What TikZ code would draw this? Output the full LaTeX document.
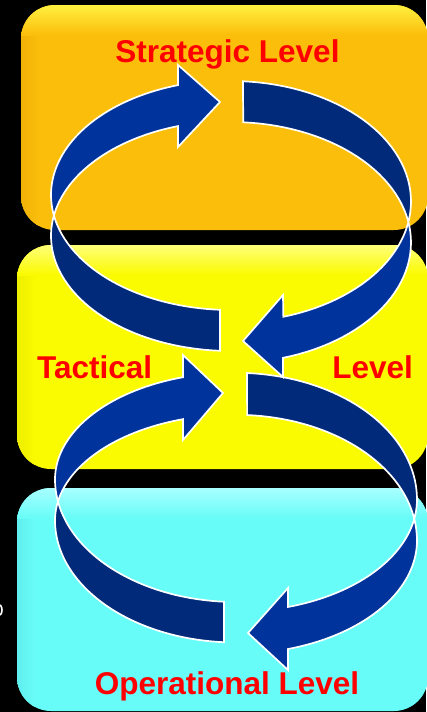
\documentclass[tikz,border=0pt]{standalone}
\usepackage{fontspec}
\setmainfont{Liberation Sans}
\definecolor{orbase}{HTML}{FBBE0A}
\definecolor{orhi}{HTML}{FFF040}
\definecolor{ordark}{HTML}{F2B208}
\definecolor{yebase}{HTML}{FAFA00}
\definecolor{yehi}{HTML}{FFFF78}
\definecolor{yedark}{HTML}{EEEE00}
\definecolor{cybase}{HTML}{68FCF8}
\definecolor{cyhi}{HTML}{A8FFFF}
\definecolor{cydark}{HTML}{60EEEE}
\definecolor{ribbright}{HTML}{00349C}
\definecolor{ribdark}{HTML}{012A7A}
\definecolor{lblred}{HTML}{FF0000}
% upper ring, left ribbon (arrow at top pointing right)
\newcommand\ribUA{plot[domain=0:1,samples=40,variable=\s] ({231+180*cos(93.5+86.5*\s)},{195+115*sin(93.5+86.5*\s)})
 -- plot[domain=0:1,samples=40,variable=\s] ({231+180*cos(180+72.9*\s)},{195+115*sin(180+72.9*\s)})
 -- (178,65) -- (220,102) -- (178,147)
 -- plot[domain=0:1,samples=40,variable=\s] ({231+180*cos(252.9-72.9*\s)},{236+115*sin(252.9-72.9*\s)})
 -- plot[domain=0:1,samples=40,variable=\s] ({231+180*cos(180-86.5*\s)},{236+115*sin(180-86.5*\s)}) -- cycle}
% upper ring, right ribbon (arrow at bottom pointing left)
\newcommand\ribUB{plot[domain=0:1,samples=60,variable=\s] ({231+180*cos(-86.2+159.4*\s)},{201.5+120.5*sin(-86.2+159.4*\s)})
 -- (283,295) -- (243,341) -- (283,377)
 -- plot[domain=0:1,samples=60,variable=\s] ({231+180*cos(73.2-159.4*\s)},{242.5+120.5*sin(73.2-159.4*\s)}) -- cycle}
% lower ring, left ribbon
\newcommand\ribLA{plot[domain=0:1,samples=40,variable=\s] ({236+181*cos(93.8+86.2*\s)},{479.5+122.5*sin(93.8+86.2*\s)})
 -- plot[domain=0:1,samples=40,variable=\s] ({236+181*cos(180+73*\s)},{479.5+107*sin(180+73*\s)})
 -- (183,355) -- (223,393) -- (183,440)
 -- plot[domain=0:1,samples=40,variable=\s] ({236+181*cos(253-73*\s)},{520.5+106*sin(253-73*\s)})
 -- plot[domain=0:1,samples=40,variable=\s] ({236+181*cos(180-86.2*\s)},{520.5+122*sin(180-86.2*\s)}) -- cycle}
% lower ring, right ribbon
\newcommand\ribLB{plot[domain=0:1,samples=40,variable=\s] ({236+181*cos(-86.5+86.5*\s)},{499.5+126.7*sin(-86.5+86.5*\s)})
 -- plot[domain=0:1,samples=40,variable=\s] ({236+181*cos(73.3*\s)},{499.5+112.2*sin(73.3*\s)})
 -- (288,588) -- (248,633) -- (288,670)
 -- plot[domain=0:1,samples=40,variable=\s] ({236+181*cos(73.3-73.3*\s)},{540.5+113.3*sin(73.3-73.3*\s)})
 -- plot[domain=0:1,samples=40,variable=\s] ({236+181*cos(-86.5*\s)},{540.5+125.7*sin(-86.5*\s)}) -- cycle}
\begin{document}
\begin{tikzpicture}[x=1pt,y=-1pt,
  ribbonedge/.style={draw=white, line width=1.7pt, line join=miter},
  lbl/.style={text=lblred, font=\fontsize{31.5}{36}\selectfont\bfseries, inner sep=0pt},
  levelbox/.style={rounded corners=34pt}]
\useasboundingbox (0,0) rectangle (426,712);
\fill[black] (0,0) rectangle (426,712);
% boxes
\newcommand\levbox[7]{%
  \fill[levelbox, #5] (#1,#2) rectangle (#3,#4);
  \begin{scope}
    \clip[levelbox] (#1,#2) rectangle (#3,#4);
    \shade[left color=#7, right color=#5] (#1,#2) rectangle ({#1+18},#4);
    \shade[top color=#6, bottom color=#5] (#1,#2) rectangle (#3,{#2+30});
  \end{scope}}
\levbox{21}{5}{428}{230}{orbase}{orhi}{ordark}
\levbox{17}{245}{428}{469}{yebase}{yehi}{yedark}
\levbox{17}{488}{428}{711}{cybase}{cyhi}{cydark}
% small white mark at left edge
\draw[white, line width=1.6pt] (-2,610) ellipse (4pt and 6pt);
% lower ring
\begin{scope}\clip (0,0) rectangle (426,501.5); \fill[ribbright] \ribLA; \end{scope}
\begin{scope}\clip (0,501.5) rectangle (426,712); \fill[ribdark] \ribLA; \end{scope}
\draw[ribbonedge] \ribLA;
\begin{scope}\clip (0,0) rectangle (426,518.8); \fill[ribdark] \ribLB; \end{scope}
\begin{scope}\clip (0,518.8) rectangle (426,712); \fill[ribbright] \ribLB; \end{scope}
\draw[ribbonedge] \ribLB;
% upper ring
\begin{scope}\clip (0,0) rectangle (426,215.5); \fill[ribbright] \ribUA; \end{scope}
\begin{scope}\clip (0,215.5) rectangle (426,712); \fill[ribdark] \ribUA; \end{scope}
\draw[ribbonedge] \ribUA;
\begin{scope}\clip (0,0) rectangle (426,222); \fill[ribdark] \ribUB; \end{scope}
\begin{scope}\clip (0,222) rectangle (426,712); \fill[ribbright] \ribUB; \end{scope}
\draw[ribbonedge] \ribUB;
% labels
\node[lbl, anchor=base] (strat) at (227.5,62) {Strategic Level};
\node[lbl, anchor=base west] (tact) at (37,378) {Tactical};
\node[lbl, anchor=base east] (tactlev) at (413,378) {Level};
\node[lbl, anchor=base] (oper) at (227,694) {Operational Level};
\end{tikzpicture}
\end{document}
